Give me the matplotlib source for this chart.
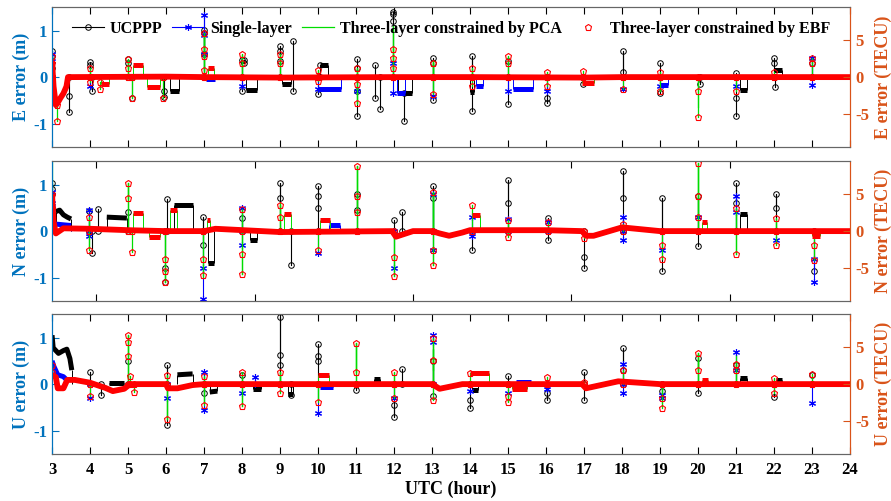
import numpy as np
import matplotlib.pyplot as plt
from matplotlib.lines import Line2D

plt.rcParams['font.family'] = ['Liberation Serif', 'DejaVu Serif']
plt.rcParams['font.weight'] = 'bold'
plt.rcParams['axes.unicode_minus'] = False

# ---- data (hours UTC, errors in m) ----
series_names = ['UCPPP', 'Single-layer', 'Three-layer constrained by PCA',
                'Three-layer constrained by EBF']
hours = list(range(3, 25))
panel_names = ['E', 'N', 'U']

# common converged baseline of each component
E_base_t = [3.0, 3.04, 3.1, 3.15, 3.22, 3.3, 3.38, 3.42, 3.5, 6.0, 7.0, 9.0, 12.0, 14.0, 17.0, 18.0, 21.0, 24.0]
E_base_v = [0.35, -0.2, -0.6, -0.55, -0.45, -0.35, -0.2, 0.0, 0.0, 0.01, 0.0, -0.01, 0.0, 0.0, -0.01, 0.0, 0.0, 0.0]

N_base_t = [3.0, 3.04, 3.1, 3.3, 4.0, 5.0, 6.0, 7.0, 7.3, 9.0, 11.95, 12.05, 12.5, 13.0, 13.2, 13.45, 13.8, 14.0,
            16.0, 16.95, 17.05, 17.25, 18.0, 19.0, 20.0, 24.0]
N_base_v = [0.8, 0.2, -0.05, 0.06, 0.05, 0.02, 0.0, 0.0, 0.05, -0.02, 0.0, -0.12, 0.0, 0.0, -0.05, -0.1, -0.03, 0.02,
            0.02, 0.0, -0.1, -0.1, 0.08, 0.0, 0.0, 0.0]

U_base_t = [3.0, 3.1, 3.15, 3.3, 3.4, 3.6, 4.0, 4.4, 4.6, 4.9, 5.05, 6.0, 6.05, 6.3, 6.7, 7.0, 13.0, 13.2, 13.5,
            13.8, 16.95, 17.05, 17.9, 19.0, 24.0]
U_base_v = [0.2, 0.15, -0.09, -0.09, 0.09, 0.09, 0.03, -0.08, -0.15, -0.1, 0.0, 0.0, -0.09, -0.09, -0.02, 0.0, 0.0,
            -0.1, -0.05, 0.0, 0.0, -0.09, 0.06, 0.0, 0.0]

# offset stretches: (series, times, values)
E_blocks = [
    ('B', [4.28, 4.5], [-0.15, -0.15]),
    ('B', [5.13, 5.4], [0.25, 0.25]),
    ('B', [5.5, 5.85], [-0.22, -0.22]),
    ('U', [6.1, 6.35], [-0.3, -0.3]),
    ('S', [7.05, 7.3], [-0.05, -0.05]),
    ('B', [7.1, 7.25], [0.2, 0.2]),
    ('U', [8.1, 8.4], [-0.28, -0.28]),
    ('U', [9.05, 9.3], [-0.15, -0.15]),
    ('S', [10.0, 10.6], [-0.25, -0.25]),
    ('U', [10.05, 10.27], [0.27, 0.27]),
    ('S', [12.07, 12.3], [-0.35, -0.35]),
    ('U', [12.1, 12.47], [-0.35, -0.35]),
    ('U', [14.0, 14.1], [-0.33, -0.33]),
    ('S', [14.15, 14.35], [-0.2, -0.2]),
    ('S', [15.13, 15.66], [-0.26, -0.26]),
    ('B', [16.95, 17.25], [-0.12, -0.12]),
    ('S', [19.0, 19.2], [-0.16, -0.16]),
    ('U', [21.1, 21.3], [-0.27, -0.27]),
    ('U', [22.0, 22.2], [0.15, 0.15]),
]
N_blocks = [
    ('U', [3.1, 3.2, 3.3, 3.4, 3.5], [0.42, 0.45, 0.35, 0.3, 0.26]),
    ('S', [3.1, 3.5], [0.15, 0.12]),
    ('U', [4.44, 4.97], [0.3, 0.28]),
    ('B', [5.13, 5.4], [0.38, 0.38]),
    ('B', [5.55, 5.85], [-0.12, -0.12]),
    ('U', [6.2, 6.7], [0.55, 0.55]),
    ('B', [6.1, 6.3], [0.45, 0.45]),
    ('U', [7.1, 7.25], [-0.68, -0.68]),
    ('B', [7.07, 7.16], [0.24, 0.24]),
    ('U', [8.2, 8.4], [-0.2, -0.2]),
    ('B', [9.1, 9.3], [0.37, 0.37]),
    ('B', [10.05, 10.32], [0.23, 0.23]),
    ('S', [10.3, 10.58], [0.13, 0.13]),
    ('B', [14.04, 14.26], [0.34, 0.34]),
    ('B', [20.1, 20.23], [0.2, 0.2]),
    ('U', [21.1, 21.3], [0.37, 0.37]),
    ('B', [23.0, 23.2], [-0.1, -0.1]),
]
U_blocks = [
    ('S', [3.0, 3.05, 3.15, 3.3, 3.4], [0.5, 0.38, 0.2, 0.16, 0.08]),
    ('U', [3.0, 3.03, 3.17, 3.3, 3.39, 3.47, 3.52], [1.05, 0.78, 0.66, 0.72, 0.75, 0.55, 0.3]),
    ('U', [4.5, 4.9], [0.03, 0.03]),
    ('U', [6.3, 6.7], [0.2, 0.22]),
    ('U', [7.15, 7.35], [-0.17, -0.15]),
    ('U', [8.3, 8.5], [-0.1, -0.1]),
    ('U', [9.2, 9.35], [-0.22, -0.22]),
    ('B', [9.99, 10.3], [0.19, 0.19]),
    ('S', [10.05, 10.4], [-0.06, -0.06]),
    ('U', [11.46, 11.63], [0.12, 0.12]),
    ('B', [14.0, 14.5], [0.23, 0.23]),
    ('U', [14.05, 14.2], [-0.13, -0.13]),
    ('B', [15.1, 15.5], [-0.1, -0.1]),
    ('S', [15.2, 15.6], [0.05, 0.05]),
    ('B', [20.1, 20.25], [0.09, 0.09]),
    ('U', [21.1, 21.3], [0.13, 0.13]),
    ('U', [22.05, 22.2], [0.09, 0.09]),
]

# re-convergence spikes: (series, time, values along the jump)
E_spikes = [
    ('U', 3.0, [0, 0.55, 0.45, 0.2]), ('S', 3.0, [0, 0.5, 0.35]), ('P', 3.0, [0.2, 0.45]),
    ('B', 3.0, [0, 0.45, 0.3]), ('B', 3.12, [-0.6, -0.95]), ('U', 3.45, [0, -0.4, -0.75]),
    ('U', 4.0, [0, 0.33, 0.25]), ('U', 4.05, [0, -0.3]), ('S', 4.0, [0, -0.2]),
    ('B', 4.0, [0, 0.2, -0.1]), ('B', 4.25, [-0.1, -0.25]),
    ('U', 5.0, [0, 0.38, 0.3]), ('P', 5.0, [0, 0.35]), ('B', 5.0, [0, 0.38, 0.2]),
    ('U', 5.1, [0, -0.45]), ('B', 5.1, [0, -0.44]), ('U', 5.95, [0, -0.43, -0.3]), ('B', 5.93, [0, -0.44]),
    ('U', 7.0, [0, 1.02, 0.95, 0.5]), ('S', 7.0, [0, 1.34, 0.9, 0.5]), ('P', 7.0, [0, 0.9, 0.55]),
    ('B', 7.0, [0, 0.95, 0.6, 0.45, 0.15]),
    ('U', 8.0, [0, 0.37, -0.3]), ('S', 8.0, [0, -0.2]), ('P', 8.0, [0, 0.45]), ('B', 8.0, [0, 0.5, 0.3]),
    ('U', 8.05, [0.3, 0.37]),
    ('U', 9.0, [0, 0.67, 0.55, 0.35]), ('P', 9.0, [0, 0.4]), ('B', 9.0, [0, 0.5, 0.3]), ('U', 9.35, [-0.3, 0.78]),
    ('U', 10.0, [0, -0.36]), ('U', 10.05, [0, 0.27]), ('S', 10.0, [0, -0.25]), ('B', 10.0, [0, 0.15, -0.08]),
    ('U', 11.02, [0.38, 0.2, -0.3, -0.83]), ('S', 11.02, [0, -0.3]), ('P', 11.02, [0.2, -0.58]),
    ('B', 11.02, [0, 0.2, -0.15, -0.55]), ('U', 11.5, [0.27, -0.44]), ('U', 11.63, [0, -0.68]),
    ('U', 11.98, [0, 1.4, 1.35, 1.2]), ('S', 11.98, [0, 0.3, -0.35]), ('P', 11.98, [0, 1.1, 0.6]),
    ('B', 11.98, [0, 0.6, 0.4, 0.2]), ('U', 12.26, [-0.35, -0.95]),
    ('U', 13.03, [0, 0.42, 0.3, -0.5]), ('S', 13.03, [0, -0.4]), ('P', 13.03, [0, 0.35, -0.3]),
    ('B', 13.03, [0, 0.3, -0.36]),
    ('U', 14.04, [0, 0.45, -0.72]), ('B', 14.04, [0, 0.2, -0.2]),
    ('U', 15.0, [0, 0.35, -0.58]), ('S', 15.0, [0, -0.3]), ('B', 15.0, [0, 0.45, 0.3]),
    ('U', 16.02, [0, -0.55, -0.45]), ('S', 16.02, [0, -0.3]), ('B', 16.02, [0, 0.1, -0.2]),
    ('U', 16.98, [0, -0.15]), ('B', 16.98, [0, 0.13]),
    ('U', 18.03, [0, 0.55, 0.12]), ('S', 18.03, [0, -0.25]), ('B', 18.03, [0, -0.25]),
    ('U', 19.0, [0.3, -0.35]), ('S', 19.0, [0, -0.2]), ('B', 19.0, [0, 0.1, -0.3]),
    ('P', 20.0, [0, -0.65]), ('B', 20.0, [0, -0.3, -0.85]), ('U', 20.05, [0, -0.15]),
    ('U', 21.0, [0.08, -0.45, -0.83]), ('S', 21.0, [0, -0.2]), ('B', 21.0, [0, -0.3]),
    ('U', 22.0, [0, 0.4, 0.3]), ('U', 22.02, [0, -0.22]), ('B', 22.0, [0, 0.1]),
    ('U', 23.0, [0, 0.3]), ('S', 23.0, [0, 0.4, -0.18]), ('B', 23.0, [0, 0.4, 0.3]),
]
N_spikes = [
    ('U', 3.0, [0.8, 1.04, 0.9]), ('S', 3.0, [0.5, 0.85, 0.6]), ('P', 3.0, [0.8, 1.5]), ('B', 3.0, [0.3, 0.8, 0.5]),
    ('U', 3.96, [0, 0.44]), ('S', 3.96, [0, 0.45, -0.1]), ('P', 3.96, [0, -0.35]), ('B', 3.96, [0, 0.3, -0.4]),
    ('U', 4.05, [0, -0.47]), ('U', 4.2, [0, 0.48]),
    ('U', 5.0, [0, 0.4]), ('P', 5.0, [0, 1.04]), ('B', 5.0, [0, 1.04, 0.72]), ('B', 5.1, [0, -0.44]),
    ('U', 5.97, [0, -0.8, -1.1]), ('P', 5.97, [0, -1.1]), ('B', 5.97, [0, -0.6, -0.85, -1.1]), ('U', 6.02, [0, 0.68]),
    ('U', 6.98, [0, 0.3, -0.3]), ('S', 6.98, [0, -0.8, -1.45]), ('P', 6.98, [0, -1.0]), ('B', 6.98, [0, -0.6, -0.95]),
    ('U', 7.99, [0, 0.28]), ('S', 7.99, [0, 0.5, -0.3]), ('P', 7.99, [0, -0.92]), ('B', 7.99, [0, 0.48, -0.5, -0.92]),
    ('U', 9.0, [0, 1.04, 0.7]), ('P', 9.0, [0, 0.6]), ('B', 9.0, [0, 0.57, 0.3]), ('U', 9.3, [0, -0.72]),
    ('U', 9.99, [0, 0.97, 0.75, 0.5]), ('S', 9.99, [0, -0.47]), ('B', 9.99, [0, -0.4]),
    ('U', 11.02, [0, 0.8, 0.45]), ('P', 11.02, [0, 1.39]), ('B', 11.02, [0, 1.39, 0.75, 0.4]),
    ('U', 12.0, [0, 0.23]), ('S', 12.0, [0, -0.8]), ('P', 12.0, [0, -0.96]), ('B', 12.0, [0, -0.55, -0.96]),
    ('U', 12.22, [0, 0.4]),
    ('U', 13.03, [0, 0.97, 0.7]), ('S', 13.03, [0, 0.8, -0.4]), ('P', 13.03, [0, 0.83, -0.72]),
    ('B', 13.03, [0, 0.83, -0.4, -0.72]),
    ('U', 14.04, [0, -0.4]), ('S', 14.04, [0, 0.3, -0.1]), ('B', 14.04, [0, 0.55]),
    ('U', 15.0, [0, 1.1, 0.6]), ('S', 15.0, [0, 0.25]), ('B', 15.0, [0, 0.23, -0.12]),
    ('U', 16.04, [0, 0.28, -0.2]), ('S', 16.04, [0, 0.2]), ('B', 16.04, [0, 0.2]),
    ('U', 17.0, [0, -0.55, -0.79]), ('B', 17.0, [0, -0.15]),
    ('U', 18.02, [0, 1.3, 0.72]), ('S', 18.02, [0, 0.3, -0.2]), ('B', 18.02, [0, 0.15]),
    ('U', 19.04, [0.0, 0.72, -0.86]), ('S', 19.04, [0, -0.4]), ('B', 19.04, [0, -0.3, -0.6]),
    ('U', 20.0, [0, 0.76, -0.33]), ('S', 20.0, [0, 0.3]), ('P', 20.0, [0, 1.46]), ('B', 20.0, [0, 1.46, 0.75, 0.3]),
    ('U', 21.0, [0, 1.04, 0.6]), ('S', 21.0, [0, 0.76, 0.4]), ('P', 21.0, [0, -0.5]), ('B', 21.0, [0, 0.5, -0.5]),
    ('U', 22.05, [0, 0.79, 0.5]), ('S', 22.05, [0, -0.2]), ('B', 22.05, [0, 0.28, -0.29]),
    ('U', 23.05, [0, -0.86]), ('S', 23.05, [0, -0.6, -1.1]), ('B', 23.05, [0, -0.3, -0.62]),
]
U_spikes = [
    ('B', 3.0, [0.2, 0.4, 0.25]),
    ('U', 4.0, [0, 0.26]), ('S', 4.0, [0, -0.3]), ('B', 4.0, [0, -0.25]), ('U', 4.3, [0, -0.23]),
    ('U', 5.0, [0, 0.5]), ('P', 5.0, [0, 1.05]), ('B', 5.0, [0, 1.05, 0.9, 0.6]),
    ('B', 5.05, [0, 0.18]), ('B', 5.15, [0, -0.17]),
    ('U', 6.03, [0, 0.41, -0.88]), ('S', 6.03, [0, -0.3]), ('P', 6.03, [0, -0.74]), ('B', 6.03, [0, 0.2, -0.74]),
    ('U', 7.0, [0, -0.2]), ('S', 7.0, [0, 0.26, -0.55]), ('P', 7.0, [0, -0.4]), ('B', 7.0, [0, 0.18, -0.45]),
    ('U', 8.0, [0, 0.2]), ('S', 8.0, [0, -0.2]), ('P', 8.0, [0, -0.48]), ('B', 8.0, [0, 0.25, -0.48]),
    ('S', 8.35, [0, 0.15]),
    ('U', 9.0, [0, 1.45, 0.62, 0.4]), ('P', 9.0, [0, 0.27]), ('B', 9.0, [0, 0.27, -0.2]), ('U', 9.3, [0, -0.23]),
    ('U', 9.99, [0, 0.87, 0.6, 0.5]), ('S', 9.99, [0, -0.63]), ('P', 9.99, [0, -0.3]), ('B', 9.99, [0, -0.38]),
    ('U', 11.0, [0, -0.13]), ('P', 11.0, [0, 0.88]), ('B', 11.0, [0, 0.88, 0.26]),
    ('U', 12.0, [0, -0.7, -0.45]), ('S', 12.0, [0, -0.3]), ('B', 12.0, [0, 0.26, -0.3]), ('U', 12.22, [0, 0.33]),
    ('U', 13.02, [0, 0.5, -0.25]), ('S', 13.02, [0, 1.06, 0.9]), ('P', 13.02, [0, 0.75, 0.3]),
    ('B', 13.02, [0, 1.0, 0.51, -0.34]),
    ('U', 14.0, [0, -0.52, -0.35]), ('S', 14.0, [0, -0.15]), ('B', 14.0, [0, 0.23]),
    ('U', 15.0, [0, 0.17]), ('S', 15.0, [0, -0.2]), ('B', 15.0, [0, -0.38, -0.25]),
    ('U', 16.02, [0, -0.34, -0.2]), ('S', 16.02, [0, -0.1]), ('B', 16.02, [0, 0.15]),
    ('U', 17.0, [0, 0.26, -0.34]), ('B', 17.0, [0, 0.05]),
    ('U', 18.02, [0, 0.78, 0.3]), ('S', 18.02, [0, 0.44, -0.18]), ('B', 18.02, [0, 0.3]),
    ('U', 19.04, [0, -0.15]), ('S', 19.04, [0, -0.24, -0.3]), ('P', 19.04, [0, -0.4]), ('B', 19.04, [0, -0.3, -0.52]),
    ('U', 20.0, [0, 0.55, -0.2]), ('P', 20.0, [0, 0.67]), ('B', 20.0, [0, 0.67, 0.3]),
    ('U', 21.0, [0, 0.4]), ('S', 21.0, [0, 0.69, 0.3]), ('P', 21.0, [0, 0.6]), ('B', 21.0, [0, 0.44, 0.3]),
    ('U', 22.0, [0, -0.27]), ('B', 22.0, [0, 0.14, -0.2]),
    ('U', 23.0, [0, 0.2]), ('S', 23.0, [0, -0.41]), ('B', 23.0, [0, 0.22]),
]

# ---- style ----
blue_ax = '#0072BD'
orange_ax = '#D95319'
sty = {
    'U': dict(color='black', marker='o', mfc='none', ms=4, lw=0.8, mew=0.7, zorder=2),
    'S': dict(color='#0000ff', marker=(6, 2, 0), ms=5, lw=0.8, mew=0.8, zorder=3),
    'P': dict(color='#00dd00', marker=None, lw=0.9, zorder=4),
    'B': dict(color='#ff0000', marker='p', mfc='none', ms=4.5, lw=0.0, mew=0.8, zorder=5),
}


def draw(ax, base_t, base_v, blocks, spikes):
    ax.plot(base_t, base_v, color='#0000ff', lw=3, zorder=3)
    ax.plot(base_t, base_v, color='#ff0000', lw=4.2, zorder=5, solid_capstyle='butt')
    for code, ts, vs in blocks:
        s = sty[code]
        ax.plot(ts, vs, color=s['color'], lw=3.6, zorder=s['zorder'], solid_capstyle='butt')
        ax.vlines([ts[0], ts[-1]], 0, [vs[0], vs[-1]], color=s['color'] if code != 'B' else '#00dd00',
                  lw=0.7, zorder=s['zorder'] - 0.5)
    for code, t, vals in spikes:
        s = dict(sty[code])
        if code == 'B':
            ax.plot([t] * len(vals), vals, color='#00dd00', lw=0.9, zorder=4)
        ax.plot([t] * len(vals), vals, ls='-' if s['lw'] > 0 else 'none', **s)


fig = plt.figure(figsize=(8.91, 5.01), dpi=100)
bottoms = [0.7066, 0.3992, 0.0938]
bases = [(E_base_t, E_base_v), (N_base_t, N_base_v), (U_base_t, U_base_v)]
blocks_all = [E_blocks, N_blocks, U_blocks]
spikes_all = [E_spikes, N_spikes, U_spikes]

for i in range(3):
    ax = fig.add_axes([0.0584, bottoms[i], 0.8956, 0.279])
    draw(ax, bases[i][0], bases[i][1], blocks_all[i], spikes_all[i])
    ax.set_xlim(3, 24)
    ax.set_ylim(-1.5, 1.5)
    ax.set_yticks([-1, 0, 1])
    if i == 1:
        ax.set_xticks([25 / 6 * k for k in range(1, 6)])
        ax.set_xticklabels([])
    else:
        ax.set_xticks(hours)
        if i == 0:
            ax.set_xticklabels([])
    ax.tick_params(axis='x', direction='in', top=True, length=5, width=0.8, labelsize=12, pad=6)
    ax.tick_params(axis='y', direction='in', length=5, width=0.8, colors=blue_ax, labelsize=12)
    ax.spines['left'].set_color(blue_ax)
    ax.spines['right'].set_color(orange_ax)
    for sp in ['top', 'bottom']:
        ax.spines[sp].set_color('#666666')
    ax.set_ylabel(panel_names[i] + ' error (m)', color=blue_ax, fontsize=13, fontweight='bold', labelpad=2)

    ax2 = ax.twinx()
    ax2.set_ylim(-9.4, 9.4)
    ax2.set_yticks([-5, 0, 5])
    ax2.tick_params(axis='y', direction='in', length=5, width=0.8, colors=orange_ax, labelsize=12)
    ax2.spines['right'].set_color(orange_ax)
    ax2.spines['left'].set_color(blue_ax)
    for sp in ['top', 'bottom']:
        ax2.spines[sp].set_color('#666666')
    ax2.set_ylabel(panel_names[i] + ' error (TECU)', color=orange_ax, fontsize=13, fontweight='bold', labelpad=4)

    if i == 0:
        handles = [Line2D([], [], **{k: v for k, v in sty['U'].items() if k != 'zorder'}),
                   Line2D([], [], **{k: v for k, v in sty['S'].items() if k != 'zorder'}),
                   Line2D([], [], color='#00dd00', lw=0.9),
                   Line2D([], [], color='#ff0000', marker='p', mfc='none', ms=4.5, mew=0.8, ls='none')]
        ax2.legend(handles, series_names, loc='upper center', ncol=4, frameon=False,
                   prop={'size': 11.5, 'weight': 'bold'}, handlelength=2.0, columnspacing=0.6,
                   handletextpad=0.4, borderaxespad=0.45)
    if i == 2:
        ax.set_xlabel('UTC (hour)', fontsize=13, fontweight='bold', labelpad=2)

fig.savefig('out.png', dpi=100)
